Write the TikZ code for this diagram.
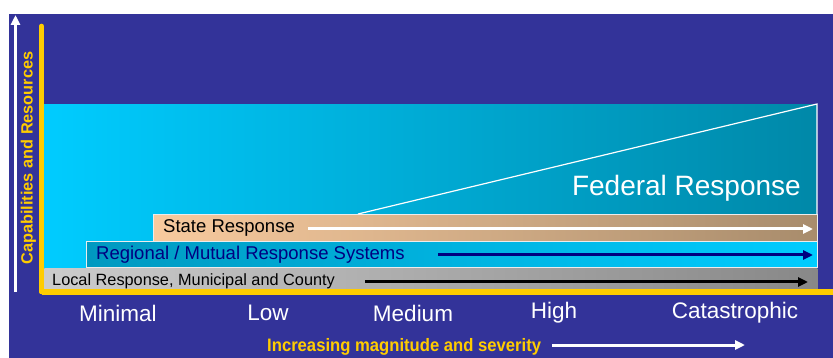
\documentclass[tikz,border=0pt]{standalone}
\usepackage{fontspec}
\setmainfont{Liberation Sans}
\usetikzlibrary{arrows.meta}
\definecolor{bg}{HTML}{333399}
\definecolor{yel}{HTML}{FFCC00}
\definecolor{fedL}{HTML}{00CCFF}
\definecolor{fedR}{HTML}{0088A8}
\definecolor{stL}{HTML}{F8CA9E}
\definecolor{stR}{HTML}{A88C6C}
\definecolor{rgL}{HTML}{0099C0}
\definecolor{rgR}{HTML}{00CCFF}
\definecolor{loL}{HTML}{CCCCCC}
\definecolor{loR}{HTML}{888888}
\definecolor{navy}{HTML}{000080}
\tikzset{
  bar/.style={shade, draw=white!85!gray, line width=0.6pt, inner sep=0pt, anchor=north west},
  bartext/.style={anchor=west, inner sep=0pt},
  ptr/.style={-{Triangle[length=10pt,width=9pt]}, line width=3pt},
  axislbl/.style={text=white, font=\fontsize{22.5}{24}\selectfont, inner sep=0pt},
  ylbl/.style={text=yel, font=\bfseries\fontsize{16.3}{18}\selectfont, inner sep=0pt}
}
\begin{document}
\begin{tikzpicture}[x=1pt,y=-1pt]
\useasboundingbox (0,0) rectangle (833,358);
\fill[white] (0,0) rectangle (833,358);
\fill[bg] (9,14) rectangle (833,358);
% federal area
\node[shade, left color=fedL, right color=fedR, inner sep=0pt, anchor=north west,
      minimum width=773pt, minimum height=164pt] (fed) at (44,104) {};
\coordinate (fa) at (358,214);
\coordinate (fb) at (817,104);
\coordinate (fc) at (817,214);
\draw[white, line width=1.2pt] (fa) -- (fb) -- (fc);
\node[text=white, font=\fontsize{28}{30}\selectfont, anchor=east, inner sep=0pt] (fedt) at (801,188) {Federal Response};
% state
\node[bar, left color=stL, right color=stR, minimum width=664pt, minimum height=27pt] (state) at (153,214) {};
\node[bartext, font=\fontsize{18.5}{20}\selectfont, text=black] (statet) at (163,228) {State Response};
\coordinate (sa) at (308,229);
\coordinate (sb) at (813,229);
\draw[ptr, white] (sa) -- (sb);
% regional
\node[bar, left color=rgL, right color=rgR, minimum width=731pt, minimum height=26pt] (reg) at (86,241) {};
\node[bartext, font=\fontsize{18.5}{20}\selectfont, text=navy] (regt) at (96,255) {Regional / Mutual Response Systems};
\coordinate (ra) at (438,255);
\coordinate (rb) at (813,255);
\draw[ptr, navy] (ra) -- (rb);
% local
\node[bar, left color=loL, right color=loR, minimum width=773pt, minimum height=22pt, draw=none] (loc) at (44,268) {};
\node[bartext, font=\fontsize{16.3}{18}\selectfont, text=black] (loct) at (52,281) {Local Response, Municipal and County};
\coordinate (la) at (365,282);
\coordinate (lb) at (808,282);
\draw[ptr, black] (la) -- (lb);
% axes
\coordinate (ytop) at (41.5,26);
\coordinate (orig) at (41.5,292);
\coordinate (xend) at (833,292);
\draw[yel, line width=4.5pt, line cap=round] (ytop) -- (orig);
\draw[yel, line width=5pt] (orig) -- (xend);
% left white arrow
\coordinate (wa) at (15.5,292);
\coordinate (wb) at (15.5,15);
\draw[ptr, white] (wa) -- (wb);
\node[ylbl, rotate=90] (ylab) at (28.5,158) {Capabilities and Resources};
% x labels
\node[axislbl] (l1) at (118,313) {Minimal};
\node[axislbl] (l2) at (268,313) {Low};
\node[axislbl] (l3) at (413,313) {Medium};
\node[axislbl] (l4) at (554,313) {High};
\node[axislbl] (l5) at (735,313) {Catastrophic};
% bottom label
\node[ylbl, font=\bfseries\fontsize{18}{20}\selectfont, anchor=west] (xlab) at (267,347) {\scalebox{0.925}[1]{Increasing magnitude and severity}};
\coordinate (xa) at (552,345);
\coordinate (xb) at (745,345);
\draw[ptr, white] (xa) -- (xb);
\end{tikzpicture}
\end{document}
